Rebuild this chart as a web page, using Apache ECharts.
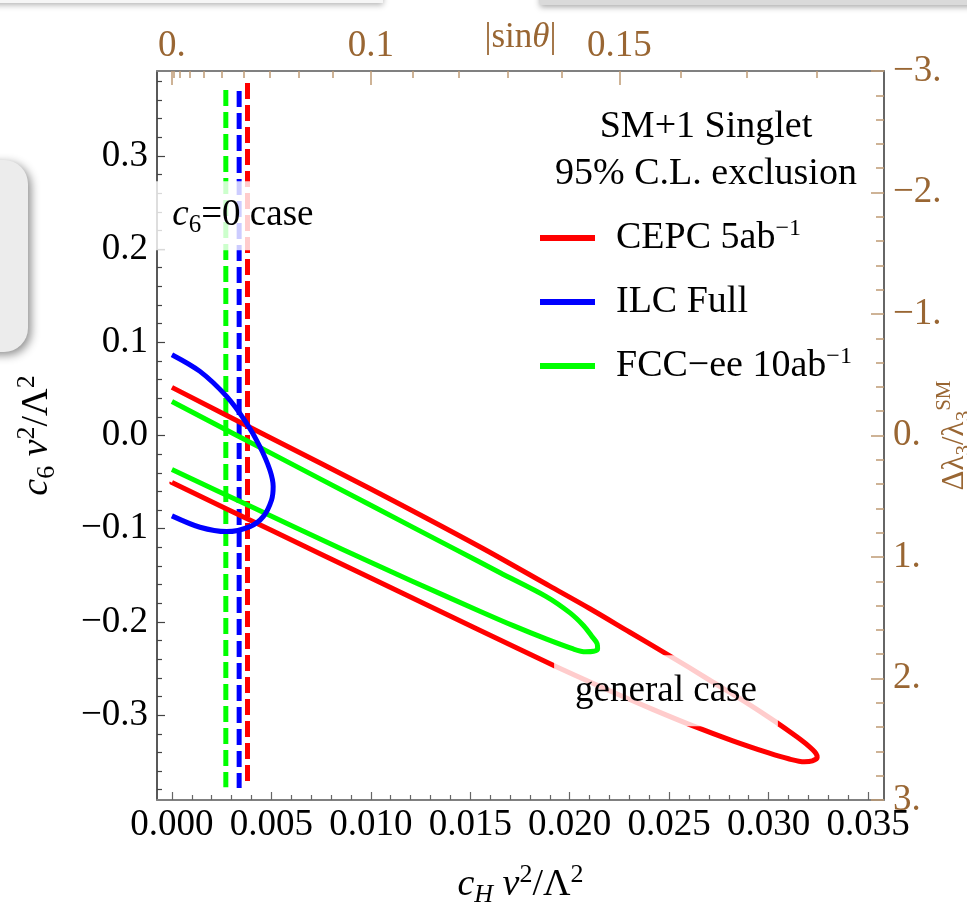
<!DOCTYPE html>
<html>
<head>
<meta charset="utf-8">
<title>SM+1 Singlet exclusion</title>
<script src="https://cdn.jsdelivr.net/npm/echarts@6/dist/echarts.min.js"></script>
<style>
  html, body { margin: 0; padding: 0; background: #ffffff; }
  #chart { width: 967px; height: 902px; }
</style>
</head>
<body>
<div id="chart"></div>
<script>
// 95% C.L. exclusion contours in the (c_H v^2/Λ^2, c_6 v^2/Λ^2) plane, general case
const cepcContour = [
  [0, 0.0516], [0.005, -0.0029], [0.010, -0.0574], [0.0155, -0.1196],
  [0.019, -0.1616], [0.021, -0.1856], [0.023, -0.2108], [0.0249, -0.2347],
  [0.027, -0.2620], [0.0288, -0.2854], [0.0303, -0.3064], [0.0314, -0.3230],
  [0.0320, -0.3330], [0.03238, -0.3410], [0.03244, -0.3455], [0.03220, -0.3490],
  [0.0318, -0.3500], [0.0310, -0.3468], [0.0300, -0.3405], [0.0282, -0.3275],
  [0.0262, -0.3115], [0.0242, -0.2940], [0.0225, -0.2784], [0.0193, -0.2477],
  [0.0155, -0.2092], [0.010, -0.1529], [0.005, -0.1017], [0, -0.0505]
];
const ilcContour = [
  [0, 0.0867], [0.00141, 0.0688], [0.00275, 0.0419], [0.00375, 0.0133],
  [0.00442, -0.0118], [0.00492, -0.0368], [0.00509, -0.0548], [0.00501, -0.0691],
  [0.00459, -0.0870], [0.00392, -0.0977], [0.00275, -0.1031], [0.00141, -0.0984],
  [0, -0.0862]
];
const fccContour = [
  [0, 0.0365], [0.005, -0.0192], [0.010, -0.0749], [0.0143, -0.1227],
  [0.0165, -0.1472], [0.0188, -0.1725], [0.0200, -0.1900], [0.0207, -0.2040],
  [0.0211, -0.2150], [0.02138, -0.2235], [0.02140, -0.2290], [0.0212, -0.2315],
  [0.0208, -0.2320], [0.02018, -0.2290], [0.01884, -0.2185], [0.01716, -0.2040],
  [0.01548, -0.1885], [0.012, -0.1555], [0.00853, -0.1218], [0.004, -0.0765],
  [0, -0.0365]
];

// c_6 = 0 case: bound on c_H (vertical dashed lines) and their drawn extent in c_6
const cepcC6Zero = [[0.0038, 0.378], [0.0038, -0.371]];
const ilcC6Zero = [[0.00338, 0.3695], [0.00338, -0.378]];
const fccC6Zero = [[0.00271, 0.3706], [0.00271, -0.3773]];

// annotation anchor points
const c6ZeroLabelAt = [0.00357, 0.2357];
const generalLabelAt = [0.02484, -0.2739];

// axes
const xTicks = [0, 0.005, 0.010, 0.015, 0.020, 0.025, 0.030, 0.035];
const yTicks = [-0.3, -0.2, -0.1, 0.0, 0.1, 0.2, 0.3];
const lambdaTicks = [-3, -2, -1, 0, 1, 2, 3];
const sinTicks = [0, 0.1, 0.15];
const sinTickLabels = ['0.', '0.1', '0.15'];
const legendNames = ['CEPC 5ab-1', 'ILC Full', 'FCC-ee 10ab-1'];
const legendLabels = ['CEPC 5ab{sup|\u22121}', 'ILC Full', 'FCC\u2212ee 10ab{sup|\u22121}'];
const seriesColors = ['#ff0000', '#0000ff', '#00ff00'];

const SERIF = '"Liberation Serif", "DejaVu Serif", serif';
const BROWN = '#996633';
const BROWN_TICK = '#bf9a74';
const MINUS = '\u2212';

const xMinor = [];
for (let i = 1; i <= 35; i++) if (i % 5 !== 0) xMinor.push(i * 0.001);
const yMinor = [];
for (let i = -19; i <= 19; i++) if (i % 5 !== 0) yMinor.push(i * 0.02);
const lambdaMinor = [];
for (let i = -15; i <= 15; i++) if (i % 5 !== 0) lambdaMinor.push(i * 0.2);
const sinMinor = [];
for (let i = 1; i <= 18; i++) if (i !== 10 && i !== 15) sinMinor.push(i * 0.01);

// |sin θ| scale on top: c_H v^2/Λ^2 = sin^2 θ
const toCH = s => s * s;
const sinTickPositions = sinTicks.map(toCH);
const sinLabelFor = v => {
  for (let k = 0; k < sinTickPositions.length; k++) {
    if (Math.abs(sinTickPositions[k] - v) < 1e-7) return sinTickLabels[k];
  }
  return '';
};

const xRange = { min: -0.00075, max: 0.0358 };
const yRange = { min: -0.391, max: 0.391 };

const fmtSigned = (v, digits) => (v < 0 ? MINUS : '') + Math.abs(v).toFixed(digits);

const mathRich = (size, color) => ({
  n: { fontFamily: SERIF, fontSize: size, color: color },
  i: { fontFamily: SERIF, fontSize: size, fontStyle: 'italic', color: color },
  sub: { fontFamily: SERIF, fontSize: Math.round(size * 0.68), color: color, padding: [20, 0, 0, 0] },
  subi: { fontFamily: SERIF, fontSize: Math.round(size * 0.68), fontStyle: 'italic', color: color, padding: [20, 0, 0, 0] },
  sup: { fontFamily: SERIF, fontSize: Math.round(size * 0.68), color: color, padding: [0, 0, 20, 0] }
});

const baseAxis = {
  splitLine: { show: false },
  axisLine: { onZero: false },
};

const option = {
  animation: false,
  backgroundColor: '#ffffff',
  grid: { left: 157, right: 83, top: 71, bottom: 102, outerBoundsMode: 'none', containLabel: false },
  title: {
    text: 'SM+1 Singlet\n95% C.L. exclusion',
    left: 706, top: 104, textAlign: 'center', padding: 0,
    textStyle: { fontFamily: SERIF, fontSize: 38, fontWeight: 'normal', color: '#000', lineHeight: 47 }
  },
  legend: {
    data: legendNames,
    orient: 'vertical',
    left: 540, top: 216,
    padding: 0,
    itemGap: 20,
    itemWidth: 55, itemHeight: 6,
    icon: 'rect',
    selectedMode: false,
    formatter: name => legendLabels[legendNames.indexOf(name)],
    textStyle: {
      fontFamily: SERIF, fontSize: 38, color: '#000', lineHeight: 44, padding: [0, 0, 0, 16],
      rich: { sup: { fontFamily: SERIF, fontSize: 24, lineHeight: 24, padding: [0, 0, 18, 0], color: '#000' } }
    }
  },
  xAxis: [
    Object.assign({}, baseAxis, {
      type: 'value', position: 'bottom', min: xRange.min, max: xRange.max,
      axisLine: { show: true, onZero: false, lineStyle: { color: '#808080', width: 2 } },
      axisTick: { show: true, inside: true, length: 8, customValues: xTicks, lineStyle: { color: '#666', width: 1.2 } },
      axisLabel: { show: true, customValues: xTicks, margin: 7, formatter: v => v.toFixed(3),
        fontFamily: SERIF, fontSize: 37, color: '#000' },
      name: '{i|c}{subi|H}{n| }{i|v}{sup|2}{n|/\u039b}{sup|2}',
      nameLocation: 'middle', nameGap: 62,
      nameTextStyle: { rich: mathRich(38, '#000') }
    }),
    Object.assign({}, baseAxis, {
      type: 'value', position: 'bottom', min: xRange.min, max: xRange.max,
      axisLine: { show: false, onZero: false },
      axisTick: { show: true, inside: true, length: 5, customValues: xMinor, lineStyle: { color: '#666', width: 1.2 } },
      axisLabel: { show: false }
    }),
    Object.assign({}, baseAxis, {
      type: 'value', position: 'top', min: xRange.min, max: xRange.max,
      axisLine: { show: true, onZero: false, lineStyle: { color: '#808080', width: 2 } },
      axisTick: { show: true, inside: true, length: 14, customValues: sinTickPositions, lineStyle: { color: BROWN_TICK, width: 1.5 } },
      axisLabel: { show: true, customValues: sinTickPositions, margin: 6, hideOverlap: false,
        formatter: v => sinLabelFor(v),
        fontFamily: SERIF, fontSize: 37, color: BROWN },
      name: '{n||sin}{i|\u03b8}{n||}',
      nameLocation: 'middle', nameGap: 16, nameMoveOverlap: false,
      nameTextStyle: { rich: mathRich(35, BROWN) }
    }),
    Object.assign({}, baseAxis, {
      type: 'value', position: 'top', min: xRange.min, max: xRange.max,
      axisLine: { show: false, onZero: false },
      axisTick: { show: true, inside: true, length: 7, customValues: sinMinor.map(toCH), lineStyle: { color: BROWN_TICK, width: 1.5 } },
      axisLabel: { show: false }
    })
  ],
  yAxis: [
    Object.assign({}, baseAxis, {
      type: 'value', position: 'left', min: yRange.min, max: yRange.max,
      axisLine: { show: true, onZero: false, lineStyle: { color: '#222', width: 1.5 } },
      axisTick: { show: true, inside: true, length: 8, customValues: yTicks, lineStyle: { color: '#444', width: 1.2 } },
      axisLabel: { show: true, customValues: yTicks, margin: 9, formatter: v => fmtSigned(v, 1),
        fontFamily: SERIF, fontSize: 37, color: '#000' },
      name: '{i|c}{sub|6}{n| }{i|v}{sup|2}{n|/\u039b}{sup|2}',
      nameLocation: 'middle', nameGap: 97, nameRotate: 90,
      nameTextStyle: { rich: mathRich(38, '#000') }
    }),
    Object.assign({}, baseAxis, {
      type: 'value', position: 'left', min: yRange.min, max: yRange.max,
      axisLine: { show: false, onZero: false },
      axisTick: { show: true, inside: true, length: 5, customValues: yMinor, lineStyle: { color: '#444', width: 1.2 } },
      axisLabel: { show: false }
    }),
    Object.assign({}, baseAxis, {
      type: 'value', position: 'right', min: -3, max: 3, inverse: true,
      axisLine: { show: true, onZero: false, lineStyle: { color: '#333', width: 1.5 } },
      axisTick: { show: true, inside: true, length: 13, customValues: lambdaTicks, lineStyle: { color: BROWN_TICK, width: 1.5 } },
      axisLabel: { show: true, customValues: lambdaTicks, margin: 9,
        formatter: v => (v < 0 ? MINUS : '') + Math.abs(v) + '.',
        fontFamily: SERIF, fontSize: 37, color: BROWN },
      name: '{n|\u0394\u03bb}{sub|3}{n|/\u03bb}{sub|3}{sup|SM}',
      nameLocation: 'middle', nameGap: 50, nameRotate: 90, nameMoveOverlap: false,
      nameTextStyle: { rich: mathRich(31, BROWN) }
    }),
    Object.assign({}, baseAxis, {
      type: 'value', position: 'right', min: -3, max: 3, inverse: true,
      axisLine: { show: false, onZero: false },
      axisTick: { show: true, inside: true, length: 8, customValues: lambdaMinor, lineStyle: { color: BROWN_TICK, width: 1.5 } },
      axisLabel: { show: false }
    })
  ],
  series: [
    { name: 'FCC c6=0', type: 'line', data: fccC6Zero, showSymbol: false, z: 2,
      lineStyle: { color: seriesColors[2], width: 5, type: [16, 6], cap: 'butt' } },
    { name: 'ILC c6=0', type: 'line', data: ilcC6Zero, showSymbol: false, z: 2,
      lineStyle: { color: seriesColors[1], width: 5, type: [16, 6], cap: 'butt' } },
    { name: 'CEPC c6=0', type: 'line', data: cepcC6Zero, showSymbol: false, z: 2,
      lineStyle: { color: seriesColors[0], width: 5, type: [16, 6], cap: 'butt' } },
    { name: legendNames[0], type: 'line', data: cepcContour, showSymbol: false, smooth: 0.3, z: 3,
      itemStyle: { color: seriesColors[0] }, lineStyle: { color: seriesColors[0], width: 5, join: 'round' } },
    { name: legendNames[2], type: 'line', data: fccContour, showSymbol: false, smooth: 0.3, z: 3,
      itemStyle: { color: seriesColors[2] }, lineStyle: { color: seriesColors[2], width: 5, join: 'round' } },
    { name: legendNames[1], type: 'line', data: ilcContour, showSymbol: false, smooth: 0.3, z: 3,
      itemStyle: { color: seriesColors[1] }, lineStyle: { color: seriesColors[1], width: 5, join: 'round' } },
    {
      name: 'annotations', type: 'scatter', z: 10, silent: true, symbolSize: 1,
      itemStyle: { color: 'rgba(0,0,0,0)', opacity: 1 },
      emphasis: { disabled: true },
      label: {
        show: true, position: 'inside', color: '#000', opacity: 1,
        fontFamily: SERIF, fontSize: 37,
        textBorderWidth: 0,
        backgroundColor: 'rgba(255,255,255,0.8)'
      },
      data: [
        { value: c6ZeroLabelAt, label: { formatter: '{i|c}{sub|6}{n|=0 case}', padding: [12, 17, 12, 17], rich: mathRich(37, '#000') } },
        { value: generalLabelAt, label: { formatter: 'general case', padding: [17, 21, 17, 21] } }
      ]
    }
  ],
  graphic: [
    { type: 'rect', z: 100, silent: true, shape: { x: -20, y: -20, width: 403, height: 23 },
      style: { fill: '#f6f6f6', shadowBlur: 6, shadowColor: 'rgba(0,0,0,0.3)', shadowOffsetY: 2 } },
    { type: 'rect', z: 100, silent: true, shape: { x: 540, y: -20, width: 450, height: 25 },
      style: { fill: '#dadada', shadowBlur: 6, shadowColor: 'rgba(0,0,0,0.35)', shadowOffsetY: 2 } },
    { type: 'rect', z: 100, silent: true, shape: { x: -40, y: 160, width: 68, height: 192, r: 24 },
      style: { fill: '#ececec', shadowBlur: 10, shadowColor: 'rgba(0,0,0,0.45)', shadowOffsetX: 3, shadowOffsetY: 3 } }
  ]
};

const chart = echarts.init(document.getElementById('chart'), null, { renderer: 'canvas' });
chart.setOption(option);
</script>
</body>
</html>
